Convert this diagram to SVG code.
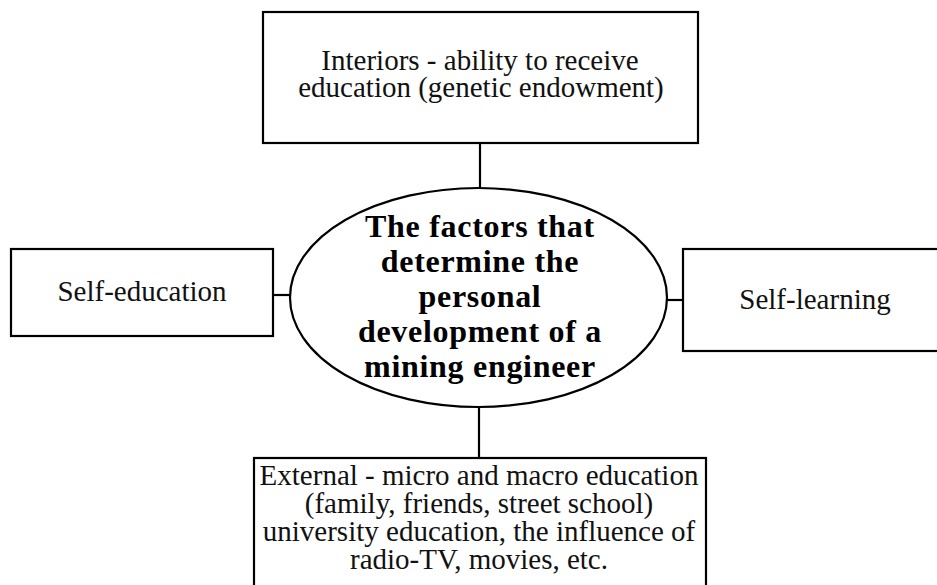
<svg xmlns="http://www.w3.org/2000/svg" width="937" height="585" viewBox="0 0 937 585">
<style>
.box{fill:#fff;stroke:#000;stroke-width:2.2}
.conn line{stroke:#000;stroke-width:2.2}
.t{font-family:"Liberation Serif","Times New Roman",serif;font-size:29px;fill:#111;text-anchor:middle}
.b{font-family:"Liberation Serif","Times New Roman",serif;font-size:32px;font-weight:bold;fill:#000;text-anchor:middle;letter-spacing:0.7px}
</style>
<rect width="937" height="585" fill="#fff"/>
<g class="conn" id="connectors">
<line x1="480" y1="143" x2="480" y2="188"/>
<line x1="479" y1="407" x2="479" y2="458"/>
<line x1="273" y1="295" x2="291" y2="295"/>
<line x1="666" y1="300" x2="683" y2="300"/>
</g>
<g id="top">
<rect class="box" x="263" y="12" width="435" height="131"/>
<text class="t" x="480" y="70">Interiors - ability to receive</text>
<text class="t" x="481" y="97">education (genetic endowment)</text>
</g>
<g id="left">
<rect class="box" x="11" y="249" width="262" height="87"/>
<text class="t" x="142" y="301">Self-education</text>
</g>
<g id="right">
<rect class="box" x="683" y="249" width="260" height="102"/>
<text class="t" x="815" y="309">Self-learning</text>
</g>
<g id="center">
<ellipse class="box" cx="478.5" cy="297.5" rx="188.5" ry="109.5"/>
<text class="b" x="480" y="237">The factors that</text>
<text class="b" x="480" y="272">determine the</text>
<text class="b" x="480" y="307">personal</text>
<text class="b" x="480" y="342">development of a</text>
<text class="b" x="480" y="377">mining engineer</text>
</g>
<g id="bottom">
<rect class="box" x="254" y="458" width="452" height="140"/>
<text class="t" x="479" y="485">External - micro and macro education</text>
<text class="t" x="479" y="513">(family, friends, street school)</text>
<text class="t" x="479" y="541">university education, the influence of</text>
<text class="t" x="479" y="569">radio-TV, movies, etc.</text>
</g>
</svg>
